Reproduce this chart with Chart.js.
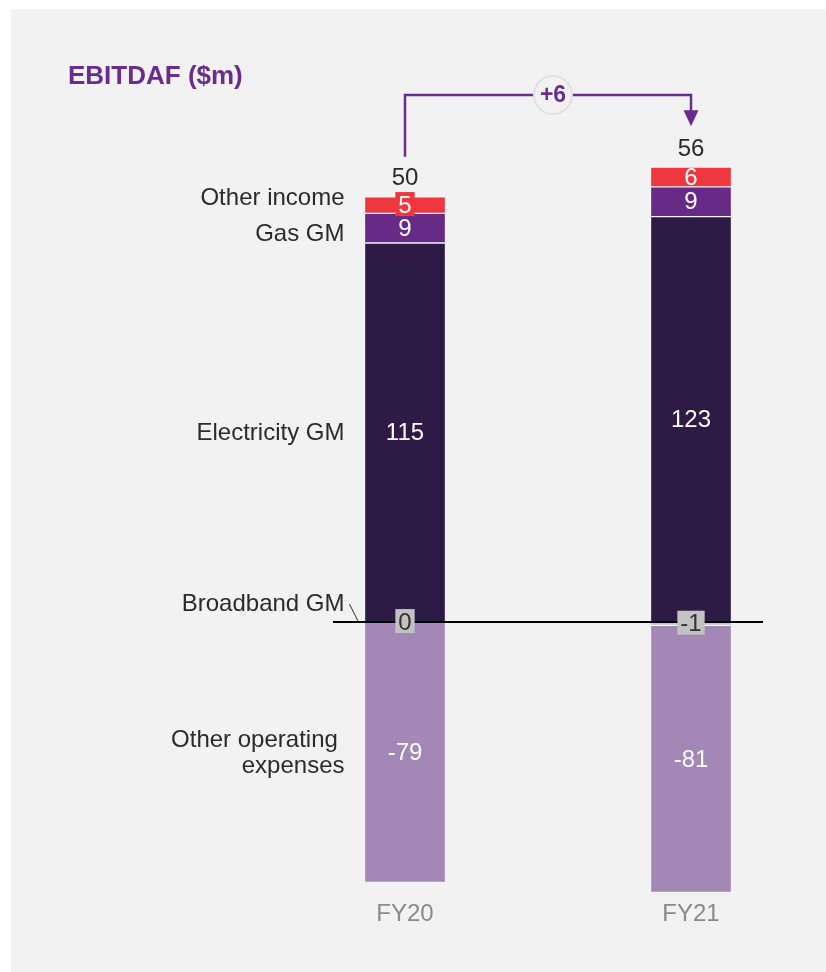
<!DOCTYPE html>
<html>
<head>
<meta charset="utf-8">
<script src="https://cdn.jsdelivr.net/npm/chart.js@4.4.1/dist/chart.umd.min.js"></script>
<style>
  html, body { margin: 0; padding: 0; background: #ffffff; }
  #panel { position: absolute; left: 11px; top: 9px; width: 815px; height: 963px; background: #f2f2f2; }
  #wrap { position: absolute; left: 0; top: 0; width: 826px; height: 972px; }
</style>
</head>
<body>
<div id="panel"></div>
<div id="wrap"><canvas id="chart" width="826" height="972"></canvas></div>
<script>
const categories = ['FY20', 'FY21'];
const otherOpex = [-79, -81];
const broadbandGM = [0, -1];
const electricityGM = [115, 123];
const gasGM = [9, 9];
const otherIncome = [5, 6];

const FONT = '"Liberation Sans", Arial, sans-serif';
const TEXT_DARK = '#2b2b2b';
const PURPLE = '#6b2c8f';

// order matters: positive and negative stacks build out from zero
const datasets = [
    { label: 'Broadband GM', data: broadbandGM, backgroundColor: '#c2c2c2', textColor: '#333333', boxColor: '#c2c2c2' },
    { label: 'Other operating expenses', data: otherOpex, backgroundColor: '#a287b7', textColor: '#ffffff' },
    { label: 'Electricity GM', data: electricityGM, backgroundColor: '#2d1a45', textColor: '#ffffff' },
    { label: 'Gas GM', data: gasGM, backgroundColor: '#682a87', textColor: '#ffffff' },
    { label: 'Other income', data: otherIncome, backgroundColor: '#ef3740', textColor: '#ffffff', boxColor: '#ef3740' }
].map(ds => ({
    ...ds,
    borderColor: 'rgba(255, 255, 255, 0.25)',
    borderWidth: 1,
    borderSkipped: false,
    barThickness: 81,
    clip: false
}));

const totals = categories.map((c, i) => datasets.reduce((s, ds) => s + ds.data[i], 0));

const annotations = {
    id: 'annotations',
    afterDatasetsDraw(chart) {
        const { ctx, scales: { x, y } } = chart;
        const y0 = y.getPixelForValue(0);
        const half = 40.5;
        const metaOf = label => chart.getDatasetMeta(chart.data.datasets.findIndex(d => d.label === label));
        ctx.save();

        // zero line
        ctx.strokeStyle = '#000000';
        ctx.lineWidth = 2;
        ctx.beginPath();
        ctx.moveTo(x.getPixelForValue(0) - 72, y0);
        ctx.lineTo(x.getPixelForValue(categories.length - 1) + 72, y0);
        ctx.stroke();

        // segment values, with a backing box when the segment is too thin
        ctx.font = '24px ' + FONT;
        ctx.textAlign = 'center';
        ctx.textBaseline = 'middle';
        chart.data.datasets.forEach((ds, di) => {
            const meta = chart.getDatasetMeta(di);
            meta.data.forEach((bar, i) => {
                const cy = (bar.y + bar.base) / 2;
                const txt = String(ds.data[i]);
                if (ds.boxColor && Math.abs(bar.base - bar.y) < 18) {
                    const w = ctx.measureText(txt).width + 6;
                    ctx.fillStyle = ds.boxColor;
                    ctx.fillRect(bar.x - w / 2, cy - 13, w, 24);
                }
                ctx.fillStyle = ds.textColor;
                ctx.fillText(txt, bar.x, cy + 1);
            });
        });

        // totals on top
        const incomeMeta = metaOf('Other income');
        ctx.fillStyle = TEXT_DARK;
        totals.forEach((t, i) => {
            const top = y.getPixelForValue(otherIncome[i] + gasGM[i] + electricityGM[i]);
            ctx.fillText(String(t), incomeMeta.data[i].x, top - 18);
        });

        // change arrow
        const xa = x.getPixelForValue(0);
        const xb = x.getPixelForValue(1);
        const topA = y.getPixelForValue(otherIncome[0] + gasGM[0] + electricityGM[0]);
        const topB = y.getPixelForValue(otherIncome[1] + gasGM[1] + electricityGM[1]);
        const yArrow = 95;
        ctx.strokeStyle = PURPLE;
        ctx.lineWidth = 2.5;
        ctx.beginPath();
        ctx.moveTo(xa, topA - 40);
        ctx.lineTo(xa, yArrow);
        ctx.lineTo(xb, yArrow);
        ctx.lineTo(xb, topB - 56);
        ctx.stroke();
        ctx.fillStyle = PURPLE;
        ctx.beginPath();
        ctx.moveTo(xb - 7.5, topB - 57);
        ctx.lineTo(xb + 7.5, topB - 57);
        ctx.lineTo(xb, topB - 41);
        ctx.closePath();
        ctx.fill();

        const xc = (xa + xb) / 2 + 5;
        ctx.fillStyle = '#f2f2f2';
        ctx.strokeStyle = '#e2e2e2';
        ctx.lineWidth = 2;
        ctx.beginPath();
        ctx.arc(xc, yArrow, 19, 0, Math.PI * 2);
        ctx.fill();
        ctx.stroke();
        const delta = totals[1] - totals[0];
        ctx.fillStyle = PURPLE;
        ctx.font = 'bold 23px ' + FONT;
        ctx.fillText((delta >= 0 ? '+' : '') + delta, xc, yArrow + 1);

        // category names on the left
        const barLeft = xa - half;
        const tx = barLeft - 20;
        const mid = (label, i) => { const b = metaOf(label).data[i]; return (b.y + b.base) / 2; };
        ctx.font = '24px ' + FONT;
        ctx.textAlign = 'right';
        ctx.fillStyle = TEXT_DARK;
        ctx.fillText('Other income', tx, mid('Other income', 0) - 7);
        ctx.fillText('Gas GM', tx, mid('Gas GM', 0) + 6);
        ctx.fillText('Electricity GM', tx, mid('Electricity GM', 0) + 1);
        ctx.fillText('Broadband GM', tx, y0 - 18);
        ctx.fillText('Other operating ', tx, mid('Other operating expenses', 0) - 12);
        ctx.fillText('expenses', tx, mid('Other operating expenses', 0) + 14);
        ctx.strokeStyle = TEXT_DARK;
        ctx.lineWidth = 1;
        ctx.beginPath();
        ctx.moveTo(barLeft - 15, y0 - 18);
        ctx.lineTo(barLeft - 6, y0);
        ctx.stroke();

        // x labels
        ctx.textAlign = 'center';
        ctx.fillStyle = '#8a8a8a';
        categories.forEach((c, i) => ctx.fillText(c, x.getPixelForValue(i), 914));

        // title
        ctx.textAlign = 'left';
        ctx.fillStyle = PURPLE;
        ctx.font = 'bold 26px ' + FONT;
        ctx.fillText('EBITDAF ($m)', 68, 77);

        ctx.restore();
    }
};

new Chart(document.getElementById('chart').getContext('2d'), {
    type: 'bar',
    data: { labels: categories, datasets },
    options: {
        responsive: false,
        animation: false,
        events: [],
        layout: { padding: { left: 405, right: 135, top: 127.6, bottom: 79.6 } },
        plugins: { legend: { display: false }, tooltip: { enabled: false } },
        datasets: { bar: { clip: false } },
        scales: {
            x: { stacked: true, offset: false, display: false },
            y: { stacked: true, display: false, min: -82, max: 150 }
        }
    },
    plugins: [annotations]
});
</script>
</body>
</html>
